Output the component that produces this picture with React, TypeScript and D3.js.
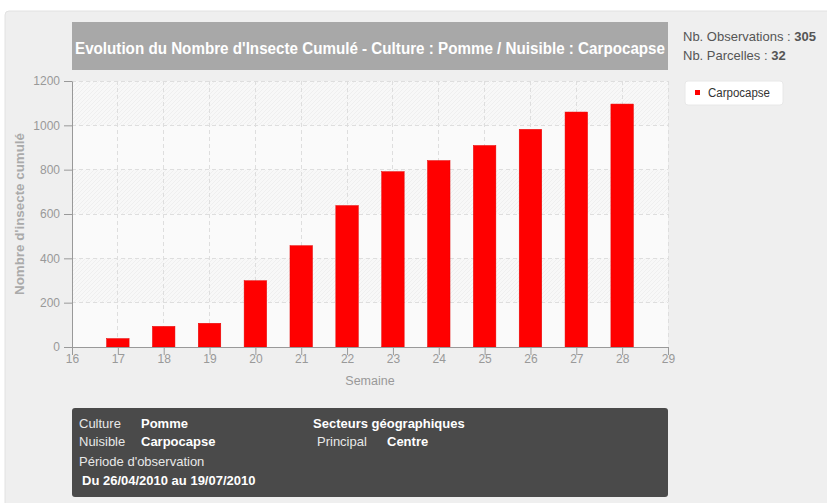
import React, { useRef, useEffect } from 'react';
import * as d3 from 'd3';

const weeks = [17, 18, 19, 20, 21, 22, 23, 24, 25, 26, 27, 28];
const cumul = [38, 93, 107, 299, 457, 638, 791, 841, 909, 982, 1060, 1096];
const xTicks = [16, 17, 18, 19, 20, 21, 22, 23, 24, 25, 26, 27, 28, 29];
const yTicks = [0, 200, 400, 600, 800, 1000, 1200];
const titleText = "Evolution du Nombre d'Insecte Cumulé - Culture : Pomme / Nuisible : Carpocapse";
const seriesName = 'Carpocapse';
const stats = [
  { label: 'Nb. Observations : ', value: '305' },
  { label: 'Nb. Parcelles : ', value: '32' },
];

const W = 827;
const H = 503;
const FONT = 'Liberation Sans, Arial, sans-serif';

const App: React.FC = () => {
  const svgRef = useRef<SVGSVGElement | null>(null);

  useEffect(() => {
    const svg = d3.select(svgRef.current!);
    svg.selectAll('*').remove();

    const left = 72, right = 668, top = 81, bottom = 347;

    const x = d3.scaleLinear().domain([16, 29]).range([left, right]);
    const y = d3.scaleLinear().domain([0, 1200]).range([bottom, top]);

    const defs = svg.append('defs');
    const pat = defs.append('pattern')
      .attr('id', 'hatch')
      .attr('patternUnits', 'userSpaceOnUse')
      .attr('width', 4)
      .attr('height', 4);
    pat.append('rect').attr('width', 4).attr('height', 4).attr('fill', '#f8f8f8');
    pat.append('path')
      .attr('d', 'M-1,1 l2,-2 M0,4 l4,-4 M3,5 l2,-2')
      .attr('stroke', '#ececec')
      .attr('stroke-width', 0.8);

    // page background
    svg.append('rect').attr('width', W).attr('height', H).attr('fill', '#ffffff');
    svg.append('rect')
      .attr('x', 5).attr('y', 11).attr('width', W).attr('height', H)
      .attr('rx', 4)
      .attr('fill', '#efefef')
      .attr('stroke', '#e2e2e2');

    // title bar
    svg.append('rect')
      .attr('x', left).attr('y', 22).attr('width', right - left).attr('height', 48)
      .attr('fill', '#a8a8a8');
    svg.append('text')
      .attr('x', (left + right) / 2).attr('y', 54)
      .attr('text-anchor', 'middle')
      .attr('fill', '#ffffff')
      .attr('font-family', FONT)
      .attr('font-weight', 'bold')
      .attr('font-size', 16)
      .attr('textLength', 590)
      .attr('lengthAdjust', 'spacingAndGlyphs')
      .text(titleText);

    // plot background with alternating bands
    svg.append('rect')
      .attr('x', left).attr('y', top).attr('width', right - left).attr('height', bottom - top)
      .attr('fill', '#fafafa');
    const bands = d3.pairs(yTicks).filter((_, i) => i % 2 === 1);
    svg.append('g').selectAll('rect').data(bands).join('rect')
      .attr('x', left)
      .attr('y', (d) => y(d[1]))
      .attr('width', right - left)
      .attr('height', (d) => y(d[0]) - y(d[1]))
      .attr('fill', 'url(#hatch)');

    // grid
    const grid = svg.append('g')
      .attr('stroke', '#dedede')
      .attr('stroke-dasharray', '4,3')
      .attr('shape-rendering', 'crispEdges');
    grid.selectAll('line.h').data(yTicks.slice(1)).join('line')
      .attr('class', 'h')
      .attr('x1', left).attr('x2', right)
      .attr('y1', (d) => y(d)).attr('y2', (d) => y(d));
    grid.selectAll('line.v').data(xTicks.slice(1)).join('line')
      .attr('class', 'v')
      .attr('x1', (d) => x(d)).attr('x2', (d) => x(d))
      .attr('y1', top).attr('y2', bottom);

    // bars
    const bw = 22.5;
    svg.append('g').selectAll('rect').data(weeks).join('rect')
      .attr('x', (d) => x(d) - bw / 2)
      .attr('y', (_, i) => y(cumul[i]))
      .attr('width', bw)
      .attr('height', (_, i) => y(0) - y(cumul[i]))
      .attr('fill', '#ff0000')
      .attr('stroke', '#e60000')
      .attr('stroke-width', 0.5);

    // axes
    const xAxis = svg.append('g')
      .attr('transform', `translate(0,${bottom})`)
      .call(d3.axisBottom(x).tickValues(xTicks).tickSize(8).tickSizeOuter(0).tickFormat(d3.format('d')));
    xAxis.select('.domain').attr('stroke', '#999');
    xAxis.selectAll('.tick line').attr('stroke', '#999');
    xAxis.selectAll('.tick text')
      .attr('fill', '#999')
      .attr('font-family', FONT)
      .attr('font-size', 12)
      .attr('dy', '0.9em')
      .attr('y', 5);

    const yAxis = svg.append('g')
      .attr('transform', `translate(${left},0)`)
      .call(d3.axisLeft(y).tickValues(yTicks).tickSize(8).tickSizeOuter(0).tickFormat(d3.format('d')));
    yAxis.select('.domain').attr('stroke', '#999');
    yAxis.selectAll('.tick line').attr('stroke', '#999');
    yAxis.selectAll('.tick text')
      .attr('fill', '#999')
      .attr('font-family', FONT)
      .attr('font-size', 12)
      .attr('x', -12);

    svg.append('text')
      .attr('x', (left + right) / 2).attr('y', 385)
      .attr('text-anchor', 'middle')
      .attr('fill', '#999')
      .attr('font-family', FONT)
      .attr('font-size', 12.5)
      .text('Semaine');

    svg.append('text')
      .attr('transform', `translate(24,${(top + bottom) / 2}) rotate(-90)`)
      .attr('text-anchor', 'middle')
      .attr('fill', '#aaa')
      .attr('font-family', FONT)
      .attr('font-weight', 'bold')
      .attr('font-size', 13)
      .attr('textLength', 162)
      .attr('lengthAdjust', 'spacingAndGlyphs')
      .text("Nombre d'insecte cumulé");

    // stats on the right
    stats.forEach((s, i) => {
      const t = svg.append('text')
        .attr('x', 683).attr('y', 41 + i * 19)
        .attr('fill', '#555')
        .attr('font-family', FONT)
        .attr('font-size', 13);
      t.append('tspan').text(s.label);
      t.append('tspan').attr('font-weight', 'bold').text(s.value);
    });

    // legend
    svg.append('rect')
      .attr('x', 685).attr('y', 81).attr('width', 98).attr('height', 24)
      .attr('rx', 3)
      .attr('fill', '#ffffff')
      .attr('stroke', '#e8e8e8');
    svg.append('rect')
      .attr('x', 695).attr('y', 90).attr('width', 5).attr('height', 5)
      .attr('fill', '#ff0000');
    svg.append('text')
      .attr('x', 708).attr('y', 97)
      .attr('fill', '#333')
      .attr('font-family', FONT)
      .attr('font-size', 12)
      .attr('textLength', 62)
      .attr('lengthAdjust', 'spacingAndGlyphs')
      .text(seriesName);

    // info box
    svg.append('rect')
      .attr('x', left).attr('y', 408).attr('width', right - left).attr('height', 89)
      .attr('rx', 3)
      .attr('fill', '#4a4a4a');
    const info = [
      { x: 79, y: 428, label: 'Culture', bx: 141, value: 'Pomme' },
      { x: 79, y: 446, label: 'Nuisible', bx: 141, value: 'Carpocapse' },
      { x: 79, y: 466, label: "Période d'observation", bx: 0, value: '' },
      { x: 82, y: 485, label: '', bx: 82, value: 'Du 26/04/2010 au 19/07/2010' },
      { x: 313, y: 428, label: '', bx: 313, value: 'Secteurs géographiques' },
      { x: 317, y: 446, label: 'Principal', bx: 387, value: 'Centre' },
    ];
    info.forEach((r) => {
      if (r.label) {
        svg.append('text')
          .attr('x', r.x).attr('y', r.y)
          .attr('fill', '#e8e8e8')
          .attr('font-family', FONT)
          .attr('font-size', 13)
          .text(r.label);
      }
      if (r.value) {
        svg.append('text')
          .attr('x', r.bx).attr('y', r.y)
          .attr('fill', '#ffffff')
          .attr('font-family', FONT)
          .attr('font-weight', 'bold')
          .attr('font-size', 13)
          .text(r.value);
      }
    });
  }, []);

  return (
    <div style={{ position: 'absolute', left: 0, top: 0 }}>
      <svg ref={svgRef} width={W} height={H} style={{ display: 'block' }} />
    </div>
  );
};

export default App;
